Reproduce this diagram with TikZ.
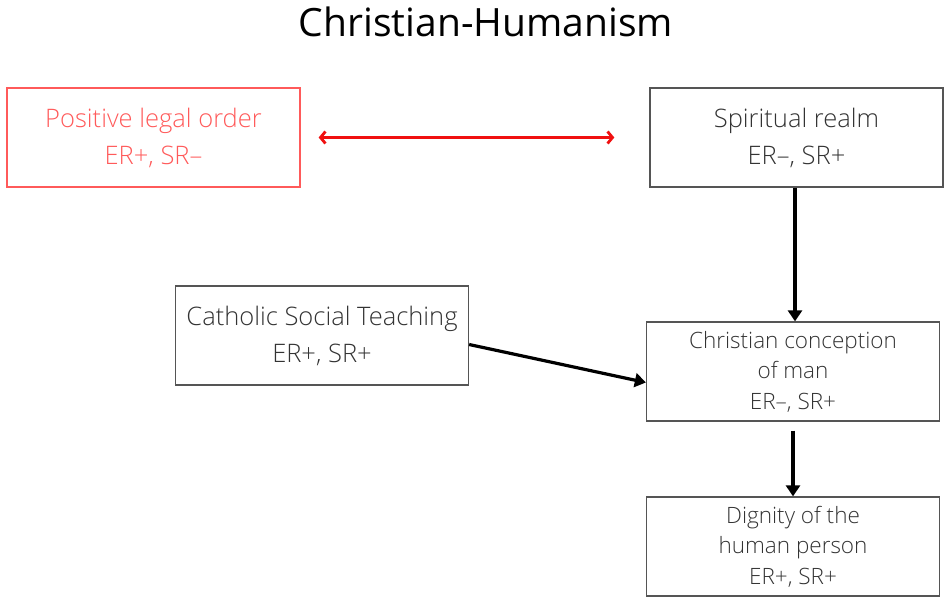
\documentclass[tikz,border=0pt]{standalone}
\usepackage{fontspec}
\setmainfont{Open Sans}[UprightFont={* Light}]
\newfontfamily\titlefont{Open Sans}
\usetikzlibrary{arrows.meta}
\definecolor{boxgray}{HTML}{555555}
\definecolor{txtgray}{HTML}{333333}
\definecolor{lred}{HTML}{FF5A5A}
\definecolor{ared}{HTML}{F01010}
\begin{document}
\begin{tikzpicture}[x=1pt,y=-1pt,
  box/.style={draw=boxgray,line width=1.3pt,minimum width=293pt,minimum height=99pt,inner sep=0pt,align=center,text=txtgray,font=\fontsize{25.5}{37}\selectfont},
  sbox/.style={box,font=\fontsize{22.5}{30.5}\selectfont},
  redbox/.style={box,draw=lred,text=lred},
  blk/.style={line width=3.2pt,-{Triangle[length=11pt,width=14pt]}},
  redarr/.style={ared,line width=2.8pt,{Straight Barb[length=5pt,width=12pt,line width=2.8pt]}-{Straight Barb[length=5pt,width=12pt,line width=2.8pt]}}]
\useasboundingbox (0,0) rectangle (945,598);
\node[text=black,font=\titlefont\fontsize{39}{48}\selectfont] (title) at (486,22) {Christian-Humanism};
\node[redbox] (plo) at (153.5,137.5) {Positive legal order\\ER+, SR–};
\node[box] (spr) at (796.5,137.5) {Spiritual realm\\ER–, SR+};
\node[box] (cst) at (322,335.5) {Catholic Social Teaching\\ER+, SR+};
\node[sbox] (ccm) at (793,371.5) {Christian conception\\of man\\ER–, SR+};
\node[sbox] (dhp) at (793,546.5) {Dignity of the\\human person\\ER+, SR+};
\draw[redarr] ([xshift=18pt]plo.east) -- ([xshift=-35pt]spr.west);
\draw[blk] (spr.south -| 795,0) -- (ccm.north -| 795,0);
\draw[blk] ([yshift=-9pt]cst.east) -- ([yshift=-11pt]ccm.west);
\draw[blk] ([yshift=-9pt]ccm.south) -- (dhp.north);
\end{tikzpicture}
\end{document}
